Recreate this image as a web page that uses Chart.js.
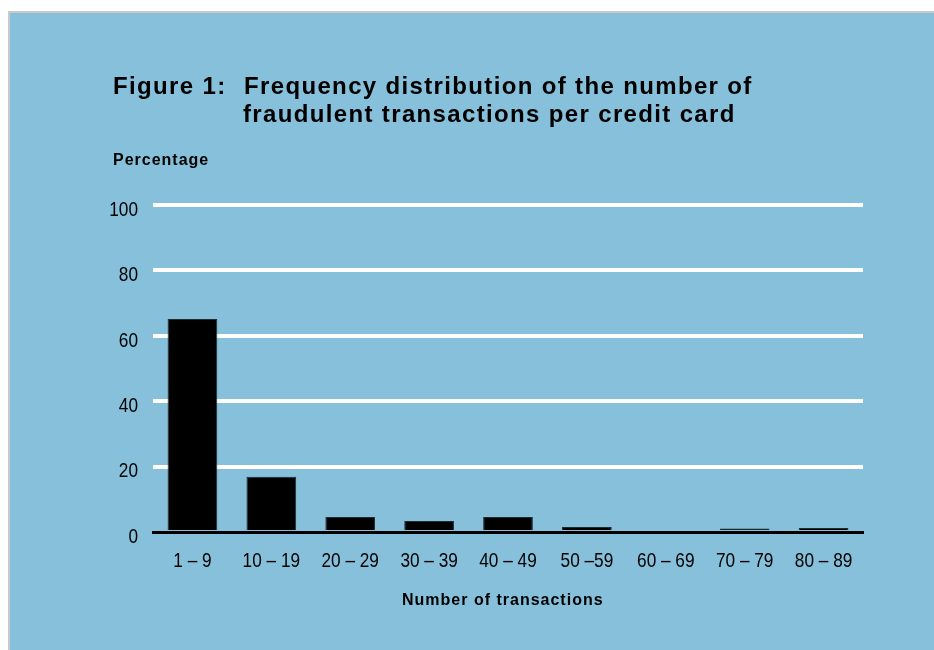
<!DOCTYPE html>
<html>
<head>
<meta charset="utf-8">
<script src="https://cdn.jsdelivr.net/npm/chart.js@4/dist/chart.umd.min.js"></script>
<style>
	html, body { margin: 0; padding: 0; width: 934px; height: 650px; overflow: hidden; background: #fff; }
	#panel { position: absolute; left: 8px; top: 11px; width: 926px; height: 639px; background: #87c0da;
		border-left: 2px solid #c9c9c9; border-top: 2px solid #c9c9c9; box-sizing: border-box; }
	#chartWrap { position: absolute; left: 0; top: 0; width: 934px; height: 650px; }
	.txt { position: absolute; font-family: "Liberation Sans", Arial, sans-serif; font-weight: bold; color: #000; white-space: nowrap; }
	.ttl { font-size: 24px; letter-spacing: 1.35px; }
	.lbl { font-size: 16px; letter-spacing: 1px; }
</style>
</head>
<body>
<div id="panel"></div>
<div id="chartWrap"><canvas id="fraudChart" width="934" height="650"></canvas></div>
<div class="txt ttl" style="left:113px; top:72px;">Figure 1:</div>
<div class="txt ttl" style="left:244px; top:72px;">Frequency distribution of the number of</div>
<div class="txt ttl" style="left:243px; top:100px;">fraudulent transactions per credit card</div>
<div class="txt lbl" style="left:113px; top:151px;">Percentage</div>
<div class="txt lbl" style="left:402px; top:591px;">Number of transactions</div>

<script>
	// Categories (number of fraudulent transactions per card)
	var categories = ['1 – 9', '10 – 19', '20 – 29', '30 – 39', '40 – 49', '50 –59', '60 – 69', '70 – 79', '80 – 89'];
	// Percentage of cards
	var percentages = [65.1, 16.9, 4.6, 3.4, 4.6, 1.5, 0, 1.1, 1.2];
	// Y axis
	var yMin = 0, yMax = 100, yStep = 20;

	// The original uses a narrow face; no narrow font here, so squeeze the tick text a bit
	var narrowTicks = {
		id: 'narrowTicks',
		afterDraw: function (chart) {
			var c = chart.ctx, xs = chart.scales.x, ys = chart.scales.y;
			c.save();
			c.fillStyle = '#000';
			c.font = '21px "Liberation Sans", Arial, sans-serif';
			c.textBaseline = 'middle';
			// y ticks
			c.textAlign = 'right';
			ys.ticks.forEach(function (t) {
				c.save();
				c.translate(ys.right - 15, ys.getPixelForValue(t.value) + 5);
				c.scale(0.82, 1);
				c.fillText(t.label, 0, 0);
				c.restore();
			});
			// x ticks
			c.textAlign = 'center';
			xs.ticks.forEach(function (t, i) {
				c.save();
				c.translate(xs.getPixelForTick(i), chart.chartArea.bottom + 29);
				c.scale(0.82, 1);
				c.fillText(xs.getLabelForValue(t.value), 0, 0);
				c.restore();
			});
			c.restore();
		}
	};

	var ctx = document.getElementById('fraudChart');
	new Chart(ctx, {
		type: 'bar',
		data: {
			labels: categories,
			datasets: [{
				label: 'Percentage',
				data: percentages,
				backgroundColor: '#000',
				borderColor: '#1d2b33',
				borderWidth: 1,
				barPercentage: 0.63,
				categoryPercentage: 1.0
			}]
		},
		options: {
			responsive: false,
			animation: false,
			layout: { padding: { left: 0, right: 71, top: 205, bottom: 0 } },
			plugins: {
				legend: { display: false },
				tooltip: { enabled: false },
				title: { display: false }
			},
			scales: {
				x: {
					grid: { display: false, drawTicks: false },
					border: { display: true, color: '#000', width: 3 },
					ticks: { display: false, autoSkip: false },
					afterFit: function (scale) { scale.height = 118; }
				},
				y: {
					min: yMin,
					max: yMax,
					grid: {
						drawTicks: false,
						lineWidth: 4,
						color: function (c) { return c.tick && c.tick.value === 0 ? 'rgba(0,0,0,0)' : '#fff'; }
					},
					border: { display: false },
					ticks: { display: false, stepSize: yStep },
					afterFit: function (scale) { scale.width = 153; }
				}
			}
		},
		plugins: [narrowTicks]
	});
</script>
</body>
</html>
